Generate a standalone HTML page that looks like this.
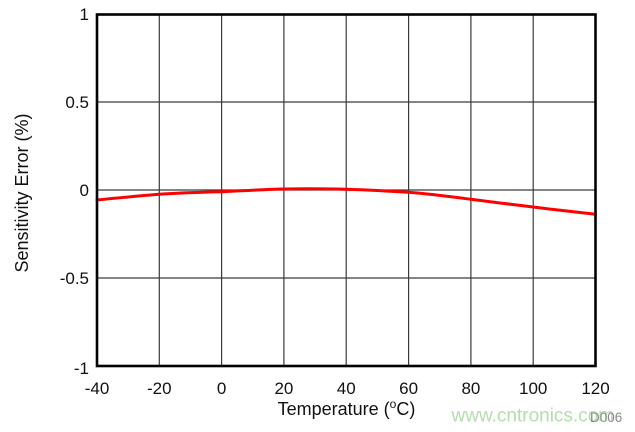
<!DOCTYPE html>
<html>
<head>
<meta charset="utf-8">
<style>
  html, body { margin: 0; padding: 0; background: #fff; }
  svg { display: block; }
  text { font-family: "Liberation Sans", Arial, sans-serif; }
</style>
</head>
<body>
<svg width="635" height="432" viewBox="0 0 635 432" xmlns="http://www.w3.org/2000/svg">
  <rect x="0" y="0" width="635" height="432" fill="#fff"/>
  <!-- grid -->
  <g stroke="#3a3a3a" stroke-width="1.2">
    <line x1="159.3" y1="14" x2="159.3" y2="366"/>
    <line x1="221.6" y1="14" x2="221.6" y2="366"/>
    <line x1="283.9" y1="14" x2="283.9" y2="366"/>
    <line x1="346.2" y1="14" x2="346.2" y2="366"/>
    <line x1="408.6" y1="14" x2="408.6" y2="366"/>
    <line x1="470.9" y1="14" x2="470.9" y2="366"/>
    <line x1="533.2" y1="14" x2="533.2" y2="366"/>
    <line x1="97" y1="102" x2="595.5" y2="102"/>
    <line x1="97" y1="190" x2="595.5" y2="190"/>
    <line x1="97" y1="278" x2="595.5" y2="278"/>
  </g>
  <!-- curve -->
  <path d="M97,200 C117,198 138,196 159.3,194.3 C180,192.8 200,192.3 221.6,191.7 C242,190.8 262,189.5 283.9,189 C305,188.6 325,188.8 346.2,189.3 C367,190 388,191 408.6,192.3 C430,194 450,196.6 470.9,199.3 C492,202 512,204.5 533.2,207 C554,209.6 575,212 595.5,214.3"
        fill="none" stroke="#ff0000" stroke-width="3" stroke-linecap="round" stroke-linejoin="round"/>
  <!-- border -->
  <rect x="97" y="14.5" width="498.5" height="351.5" fill="none" stroke="#000" stroke-width="2.6"/>
  <!-- y tick labels -->
  <g font-size="17" fill="#111" text-anchor="end">
    <text x="89" y="20">1</text>
    <text x="89" y="108">0.5</text>
    <text x="89" y="196">0</text>
    <text x="89" y="284">-0.5</text>
    <text x="89" y="374">-1</text>
  </g>
  <!-- x tick labels -->
  <g font-size="17" fill="#111" text-anchor="middle">
    <text x="97" y="394">-40</text>
    <text x="159.3" y="394">-20</text>
    <text x="221.6" y="394">0</text>
    <text x="283.9" y="394">20</text>
    <text x="346.2" y="394">40</text>
    <text x="408.6" y="394">60</text>
    <text x="470.9" y="394">80</text>
    <text x="533.2" y="394">100</text>
    <text x="595.5" y="394">120</text>
  </g>
  <!-- axis titles -->
  <text x="346.5" y="415" font-size="18" fill="#111" text-anchor="middle">Temperature (<tspan font-size="12" dy="-7">o</tspan><tspan dy="7">C)</tspan></text>
  <text transform="translate(28,193) rotate(-90)" font-size="18" fill="#111" text-anchor="middle">Sensitivity Error (%)</text>
  <!-- watermark -->
  <text x="451.5" y="421.5" font-size="19" fill="#b6ddb0">www.cntronics.com</text>
  <text x="590" y="422" font-size="13.5" fill="#8a8a8a">D006</text>
</svg>
</body>
</html>
